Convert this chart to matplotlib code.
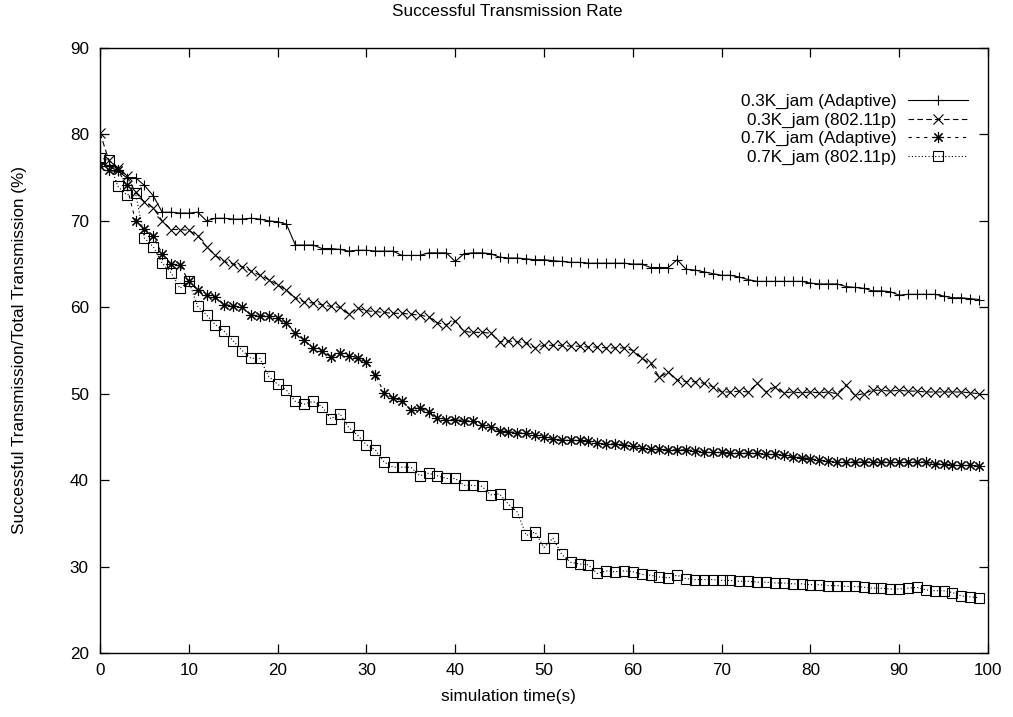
import matplotlib
matplotlib.use("Agg")
import matplotlib.pyplot as plt

plt.rcParams['font.family'] = ['Liberation Sans', 'DejaVu Sans']

# simulation time (s), one sample per second
time_s = list(range(100))

adaptive_03k = [76.8, 76.3, 75.8, 75.0, 75.0, 74.1, 72.9, 71.0, 71.0, 70.9,
                70.9, 71.0, 70.0, 70.3, 70.3, 70.2, 70.2, 70.3, 70.2, 70.0,
                69.9, 69.6, 67.2, 67.2, 67.2, 66.8, 66.8, 66.7, 66.5, 66.6,
                66.6, 66.5, 66.5, 66.5, 66.0, 66.0, 66.0, 66.3, 66.3, 66.3,
                65.3, 66.2, 66.3, 66.3, 66.2, 65.8, 65.7, 65.7, 65.6, 65.5,
                65.5, 65.4, 65.3, 65.2, 65.2, 65.1, 65.1, 65.1, 65.1, 65.1,
                65.0, 65.0, 64.6, 64.6, 64.6, 65.5, 64.4, 64.3, 64.1, 63.9,
                63.7, 63.7, 63.5, 63.2, 63.0, 63.0, 63.0, 63.0, 63.0, 63.0,
                62.8, 62.7, 62.7, 62.7, 62.4, 62.3, 62.2, 61.9, 61.9, 61.8,
                61.4, 61.5, 61.5, 61.5, 61.5, 61.3, 61.1, 61.1, 61.0, 60.9]

p80211_03k = [80.2, 77.0, 76.1, 75.2, 73.3, 72.2, 71.5, 70.0, 69.0, 69.0,
              68.9, 68.3, 67.0, 66.0, 65.3, 65.0, 64.7, 64.2, 63.7, 63.2,
              62.6, 62.0, 61.1, 60.6, 60.5, 60.3, 60.1, 60.0, 59.2, 59.9,
              59.6, 59.5, 59.4, 59.3, 59.3, 59.2, 59.1, 58.9, 58.2, 58.0,
              58.4, 57.2, 57.1, 57.1, 57.0, 56.0, 56.1, 56.0, 55.9, 55.3,
              55.6, 55.6, 55.6, 55.5, 55.5, 55.4, 55.4, 55.3, 55.3, 55.3,
              55.0, 54.1, 53.5, 51.9, 52.5, 51.6, 51.4, 51.4, 51.2, 50.8,
              50.2, 50.2, 50.3, 50.2, 51.2, 50.2, 50.8, 50.1, 50.2, 50.1,
              50.2, 50.1, 50.2, 50.0, 51.0, 49.8, 50.0, 50.4, 50.4, 50.3,
              50.4, 50.3, 50.3, 50.2, 50.2, 50.2, 50.2, 50.2, 50.1, 50.0]

adaptive_07k = [76.3, 75.9, 75.9, 74.1, 70.0, 69.1, 68.2, 66.2, 65.0, 64.9,
                63.0, 62.0, 61.4, 61.2, 60.3, 60.2, 60.0, 59.1, 59.0, 59.0,
                58.8, 58.2, 57.0, 56.2, 55.3, 55.0, 54.2, 54.7, 54.4, 54.1,
                53.7, 52.2, 50.1, 49.5, 49.2, 48.1, 48.4, 47.9, 47.2, 47.0,
                47.0, 46.9, 46.8, 46.4, 46.1, 45.7, 45.6, 45.5, 45.4, 45.2,
                45.0, 44.8, 44.6, 44.6, 44.6, 44.5, 44.3, 44.2, 44.2, 44.1,
                43.9, 43.7, 43.6, 43.6, 43.5, 43.5, 43.5, 43.4, 43.3, 43.2,
                43.2, 43.1, 43.1, 43.1, 43.1, 43.0, 43.0, 42.9, 42.7, 42.6,
                42.5, 42.3, 42.2, 42.1, 42.1, 42.1, 42.1, 42.1, 42.1, 42.1,
                42.1, 42.1, 42.1, 42.1, 41.9, 41.9, 41.8, 41.7, 41.7, 41.6]

p80211_07k = [77.3, 77.0, 74.0, 73.0, 73.2, 68.0, 67.0, 65.1, 64.0, 62.2,
              63.0, 60.1, 59.1, 58.0, 57.2, 56.1, 55.0, 54.1, 54.1, 52.0,
              51.1, 50.4, 49.1, 48.8, 49.1, 48.5, 47.1, 47.7, 46.1, 45.2,
              44.1, 43.5, 42.1, 41.5, 41.5, 41.5, 40.5, 40.8, 40.5, 40.2,
              40.2, 39.4, 39.4, 39.3, 38.3, 38.4, 37.2, 36.3, 33.6, 34.0,
              32.2, 33.3, 31.4, 30.5, 30.3, 30.2, 29.2, 29.5, 29.4, 29.5,
              29.4, 29.1, 29.0, 28.8, 28.7, 29.0, 28.6, 28.5, 28.5, 28.5,
              28.4, 28.4, 28.3, 28.3, 28.2, 28.2, 28.1, 28.1, 28.0, 28.0,
              27.9, 27.9, 27.8, 27.8, 27.7, 27.7, 27.6, 27.5, 27.5, 27.4,
              27.4, 27.5, 27.6, 27.3, 27.2, 27.2, 27.0, 26.6, 26.5, 26.4]

labels = ['0.3K_jam (Adaptive)', '0.3K_jam (802.11p)',
          '0.7K_jam (Adaptive)', '0.7K_jam (802.11p)']

W, H = 1013, 717
fs = 12.3
fig = plt.figure(figsize=(W / 100, H / 100), dpi=100)
ax = fig.add_axes([100 / W, 1 - 653 / H, 888 / W, 605 / H])

lw = 0.8
ax.plot(time_s, adaptive_03k, color='black', lw=lw, ls='-',
        marker='+', ms=7.5, mew=0.8, label=labels[0])
ax.plot(time_s, p80211_03k, color='black', lw=lw, ls=(0, (5, 3)),
        marker='x', ms=6.5, mew=0.8, label=labels[1])
ax.plot(time_s, adaptive_07k, color='black', lw=lw, ls=(0, (3, 4)),
        marker=(8, 2, 0), ms=8, mew=0.8, label=labels[2])
ax.plot(time_s, p80211_07k, color='black', lw=lw, ls=(0, (1, 2)),
        marker='s', ms=6.5, mew=0.8, mfc='none', label=labels[3])

ax.set_xlim(0, 100)
ax.set_ylim(20, 90)
ax.set_xticks(range(0, 101, 10))
ax.set_yticks(range(20, 91, 10))
ax.tick_params(direction='in', length=6.5, width=0.9, top=True, right=True,
               labelsize=fs)
ax.tick_params(axis='x', pad=7)
ax.tick_params(axis='y', pad=8)
for s in ax.spines.values():
    s.set_linewidth(1.0)

fig.text(507 / W, 1 - 12 / H, 'Successful Transmission Rate',
         ha='center', va='center', fontsize=fs)
fig.text(508 / W, 1 - 697 / H, 'simulation time(s)',
         ha='center', va='center', fontsize=fs)
fig.text(20 / W, 1 - 350 / H, 'Successful Transmission/Total Transmission (%)',
         ha='center', va='center', rotation=90, fontsize=fs)

# text on the left, sample on the right; matplotlib right-aligns rows then
ax.legend(loc='upper right', bbox_to_anchor=(968 / W, 1 - 94 / H),
          bbox_transform=fig.transFigure, frameon=False,
          markerfirst=False, handlelength=3.5, handletextpad=0.7,
          labelspacing=0.2, borderpad=0, borderaxespad=0,
          fontsize=fs, numpoints=1)

fig.savefig('out.png', dpi=100)
